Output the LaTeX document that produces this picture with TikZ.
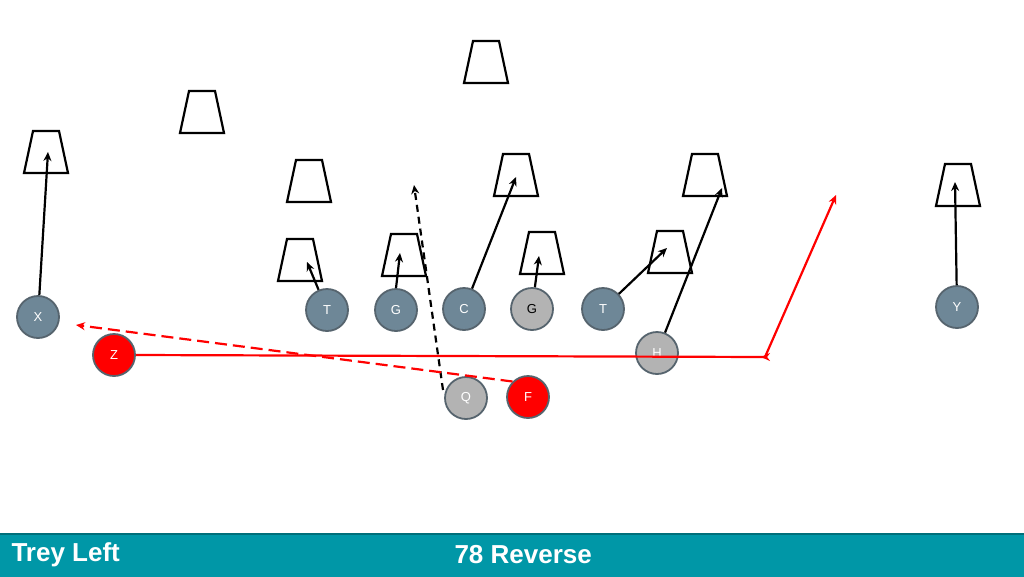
\documentclass[tikz,border=0pt]{standalone}
\usepackage{fontspec}
\setmainfont{Liberation Sans}
\usetikzlibrary{arrows.meta}
\definecolor{slate}{HTML}{6E8797}
\definecolor{lgray}{HTML}{B3B3B3}
\definecolor{pred}{HTML}{FF0000}
\definecolor{rim}{HTML}{56646E}
\definecolor{teal}{HTML}{0097A7}
\definecolor{tealdark}{HTML}{006F7A}
\tikzset{
 pl/.style={circle,draw=rim,line width=1.8pt,minimum size=42pt,inner sep=0pt,font=\fontsize{13}{13}\selectfont,text=white},
 sl/.style={pl,fill=slate},
 gr/.style={pl,fill=lgray},
 rd/.style={pl,fill=pred},
 route/.style={line width=2.2pt,-{Stealth[length=9pt,width=8pt]}},
 redroute/.style={route,draw=pred},
 def/.style={line width=2.2pt,draw=black},
 lbl/.style={font=\bfseries\fontsize{26}{26}\selectfont,text=white,anchor=west}
}
\begin{document}
\begin{tikzpicture}[x=1pt,y=-1pt]
\useasboundingbox (0,0) rectangle (1024,576);
\fill[white] (0,0) rectangle (1024,576);
% defenders
\foreach \x/\y in {486/62,202/112,46/152,309/181,516/175,705/175,958/185,300/260,404/255,542/253,670/252}{
 \draw[def] (\x-13,\y-21) -- (\x+13,\y-21) -- (\x+22,\y+21) -- (\x-22,\y+21) -- cycle;
}
% players
\node[sl] (X) at (38,317) {X};
\node[rd] (Z) at (114,355) {Z};
\node[sl] (T1) at (327,310) {T};
\node[sl] (G1) at (396,310) {G};
\node[sl] (C) at (464,309) {C};
\node[gr,text=black] (G2) at (532,309) {G};
\node[sl] (T2) at (603,309) {T};
\node[gr] (H) at (657,353) {H};
\node[gr] (Q) at (466,398) {Q};
\node[rd] (F) at (528,397) {F};
\node[sl] (Y) at (957,307) {Y};
% coordinates
\coordinate (xe) at (48,152);
\coordinate (t1e) at (307,262);
\coordinate (g1e) at (400,253);
\coordinate (ce) at (516,177);
\coordinate (g2e) at (539,256);
\coordinate (t2e) at (667,248);
\coordinate (he) at (722,188);
\coordinate (ye) at (955,182);
\coordinate (qs) at (443,390);
\coordinate (qe) at (414,185);
\coordinate (zturn) at (765,357);
\coordinate (ze) at (836,195);
\coordinate (fe) at (76,325);
% routes
\draw[route] (X) -- (xe);
\draw[route] (T1) -- (t1e);
\draw[route] (G1.north) -- (g1e);
\draw[route] (C) -- (ce);
\draw[route] (G2) -- (g2e);
\draw[route] (T2) -- (t2e);
\draw[route] (H) -- (he);
\draw[route] (Y) -- (ye);
\draw[route,dashed,dash pattern=on 7pt off 5pt] (qs) -- (qe);
\draw[redroute,-] (Z.east) -- (zturn);
\draw[redroute,{Stealth[length=9pt,width=8pt]}-{Stealth[length=9pt,width=8pt]}] ([xshift=-4pt]zturn) -- (zturn) -- (ze);
\draw[redroute,dashed,dash pattern=on 12pt off 6pt] (F.north west) -- (fe);
% bottom bar
\draw[fill=teal,draw=tealdark,line width=2pt] (-2,534) rectangle (1026,578);
\node[lbl] (t1) at (8,555) {Trey Left};
\node[lbl] (t2) at (451,555) {78 Reverse};
\end{tikzpicture}
\end{document}
